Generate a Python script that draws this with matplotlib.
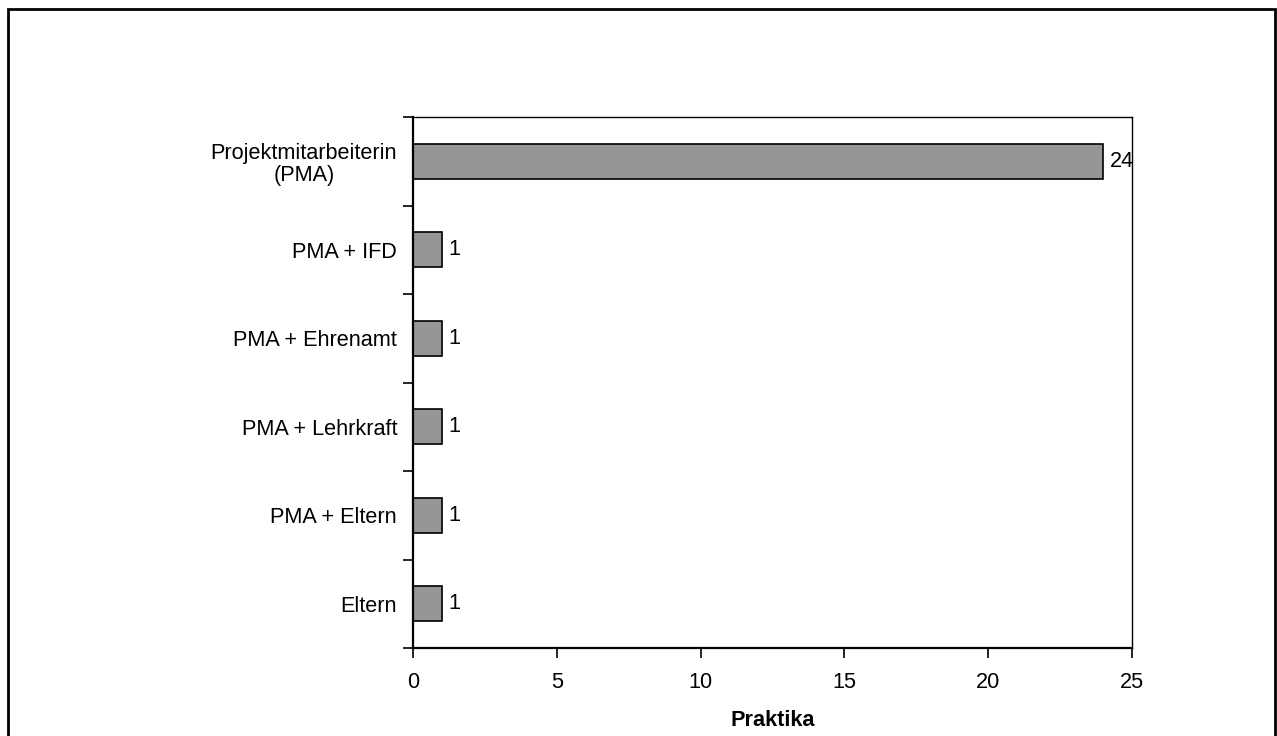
import matplotlib.pyplot as plt
import matplotlib.patches as patches
import numpy as np

plt.rcParams['font.family'] = ['Liberation Sans', 'DejaVu Sans']

categories = ['Projektmitarbeiterin\n(PMA)', 'PMA + IFD', 'PMA + Ehrenamt',
              'PMA + Lehrkraft', 'PMA + Eltern', 'Eltern']
values = [24, 1, 1, 1, 1, 1]
xticks = [0, 5, 10, 15, 20, 25]

W, H = 1277, 736
fs = 15.6
fig = plt.figure(figsize=(W / 100, H / 100), dpi=100)
ax = fig.add_axes([413 / W, 1 - 648 / H, (1132 - 413) / W, (648 - 117) / H])

y = np.arange(len(categories))
rects = ax.barh(y, values, height=0.4, color='#969696', edgecolor='black', linewidth=1.2)
ax.bar_label(rects, padding=5, fontsize=fs)

ax.set_ylim(len(categories) - 0.5, -0.5)
ax.set_xlim(0, 25)
ax.set_xticks(xticks)
ax.set_yticks(y, categories)
ax.set_yticks(np.arange(-0.5, len(categories)), minor=True)
ax.tick_params(axis='y', which='major', length=0, pad=11.5, labelsize=fs)
ax.tick_params(axis='y', which='minor', length=7, width=1.2, direction='out')
ax.tick_params(axis='x', length=7, width=1.2, direction='out', pad=10.5, labelsize=fs)
for lbl in ax.get_yticklabels():
    lbl.set_horizontalalignment('right')
    lbl.set_multialignment('center')
    lbl.set_linespacing(1.1)

for s in ['left', 'bottom']:
    ax.spines[s].set_linewidth(1.6)
for s in ['top', 'right']:
    ax.spines[s].set_linewidth(1.0)
ax.set_xlabel('Praktika', fontweight='bold', fontsize=fs, labelpad=12)

# outer frame
fig.add_artist(patches.Rectangle((8 / W, -0.02), (1275 - 8) / W, 1.02 - 9 / H,
                                 transform=fig.transFigure, fill=False,
                                 edgecolor='black', linewidth=2))

fig.savefig('out.png', dpi=100)
